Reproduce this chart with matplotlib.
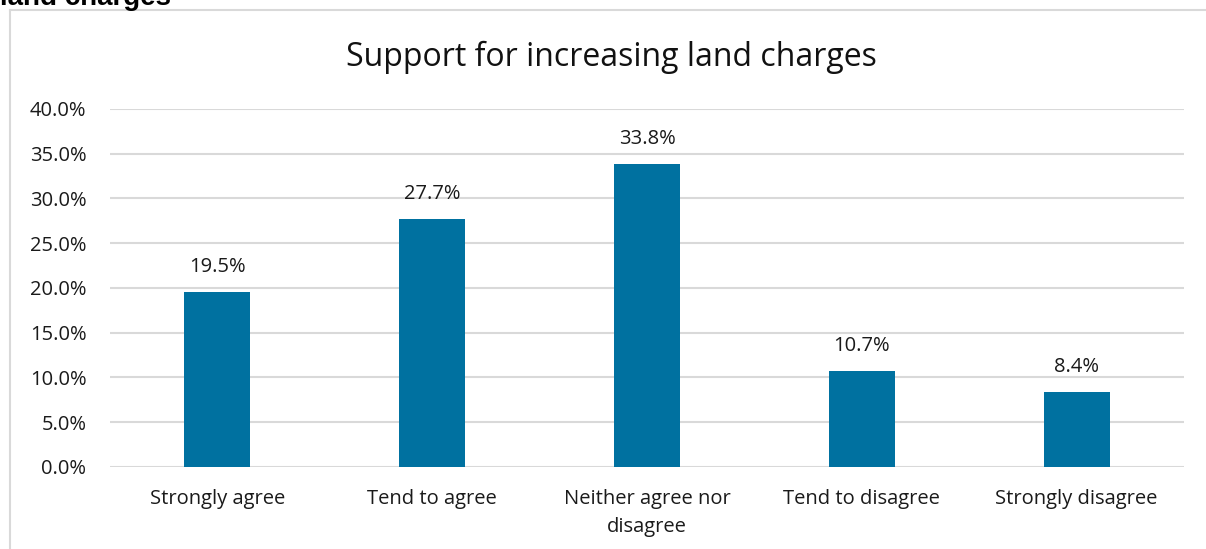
import matplotlib.pyplot as plt
from matplotlib.lines import Line2D

categories = ["Strongly agree", "Tend to agree", "Neither agree nor\ndisagree",
              "Tend to disagree", "Strongly disagree"]
values = [19.5, 27.7, 33.8, 10.7, 8.4]
yticks = [0, 5, 10, 15, 20, 25, 30, 35, 40]

bar_color = "#0071A0"
grid_color = "#D9D9D9"
text_color = "#1A1A1A"

plt.rcParams["font.family"] = ["Open Sans", "DejaVu Sans"]

fig = plt.figure(figsize=(12.06, 5.49), dpi=100)
ax = fig.add_axes([0.0912, 0.1494, 0.8906, 0.6521])

x = range(len(categories))
bars = ax.bar(x, values, width=0.307, color=bar_color, zorder=3)

for rect, v in zip(bars, values):
    ax.annotate(f"{v:.1f}%", (rect.get_x() + rect.get_width() / 2, v),
                xytext=(0, 11), textcoords="offset points",
                ha="center", va="bottom", fontsize=14.5, color=text_color)

ax.set_xlim(-0.5, len(categories) - 0.5)
ax.set_ylim(0, 40)
ax.set_yticks(yticks)
ax.set_yticklabels([f"{t:.1f}%" for t in yticks], fontsize=14.5, color=text_color)
ax.set_xticks(list(x))
ax.set_xticklabels(categories, fontsize=14.5, color=text_color, linespacing=1.55)
ax.tick_params(axis="y", length=0, pad=17)
ax.tick_params(axis="x", length=0, pad=16)
ax.yaxis.grid(True, color=grid_color, linewidth=1.5, zorder=0)
for s in ax.spines.values():
    s.set_visible(False)

fig.text(611 / 1206, 1 - 57 / 549, "Support for increasing land charges",
         fontsize=23, color="#111111", ha="center", va="center")

# outer frame of the chart area
fig.add_artist(Line2D([10 / 1206, 10 / 1206], [0, 1 - 10 / 549],
                      transform=fig.transFigure, color=grid_color, linewidth=1.5))
fig.add_artist(Line2D([10 / 1206, 1], [1 - 10 / 549, 1 - 10 / 549],
                      transform=fig.transFigure, color=grid_color, linewidth=1.5))

# heading above the frame, partly cut off by the figure edge
fig.text(0.0, 1 - 5 / 549, "land charges", fontsize=20, fontweight="bold",
         family="Liberation Sans", ha="left", va="baseline")

fig.savefig("out.png", dpi=100)
